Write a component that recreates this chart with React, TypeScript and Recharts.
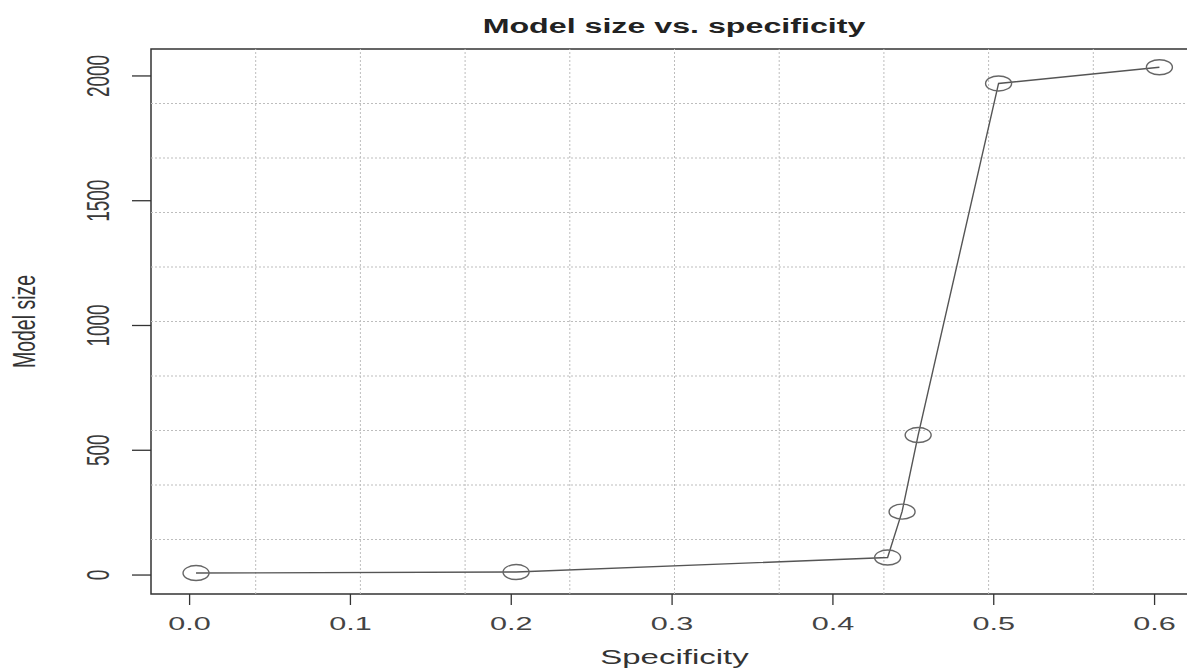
import React from 'react';
import {
  LineChart,
  Line,
  XAxis,
  YAxis,
  ReferenceLine,
  ReferenceArea,
} from 'recharts';

// values
const specificity = [0.004, 0.203, 0.434, 0.443, 0.453, 0.503, 0.603];
const modelSize = [8, 12, 70, 254, 561, 1970, 2035];

const xTicks = [0, 0.1, 0.2, 0.3, 0.4, 0.5, 0.6];
const yTicks = [0, 500, 1000, 1500, 2000];

const xDomain: [number, number] = [-0.024, 0.627];
const yDomain: [number, number] = [-76, 2108];

const chartData = specificity.map((x, i) => ({ x, y: modelSize[i] }));

// grid() style: plot region split into 10 equal parts
const splitDomain = (d: [number, number]) =>
  [1, 2, 3, 4, 5, 6, 7, 8, 9].map((k) => d[0] + (k * (d[1] - d[0])) / 10);
const gridX = splitDomain(xDomain);
const gridY = splitDomain(yDomain);

const FONT = '"Liberation Sans", Arial, sans-serif';
const STRETCH = 1.65; // source image is stretched horizontally

const XTick = (props: any) => {
  const { x, y, payload } = props;
  return (
    <text
      transform={`translate(${x},${y + 25}) scale(1.7,1)`}
      textAnchor="middle"
      fontSize={18}
      fontFamily={FONT}
      fill="#444"
    >
      {payload.value.toFixed(1)}
    </text>
  );
};

const YTick = (props: any) => {
  const { x, y, payload } = props;
  return (
    <text
      transform={`translate(${x - 23},${y}) scale(${STRETCH},1) rotate(-90)`}
      textAnchor="middle"
      fontSize={19}
      fontFamily={FONT}
      fill="#3a3a3a"
    >
      {payload.value}
    </text>
  );
};

const Dot = (props: any) => {
  const { cx, cy, index } = props;
  return (
    <ellipse
      key={`dot-${index}`}
      cx={cx}
      cy={cy}
      rx={13}
      ry={7.5}
      fill="none"
      stroke="#666"
      strokeWidth={1.4}
    />
  );
};

export default function App() {
  return (
    <div
      style={{
        position: 'absolute',
        left: 0,
        top: 0,
        width: 1187,
        height: 670,
        overflow: 'hidden',
        background: '#fff',
      }}
    >
      <div
        style={{
          position: 'absolute',
          left: 674,
          top: 17,
          transform: `translateX(-50%) scaleX(${STRETCH})`,
          fontFamily: FONT,
          fontWeight: 'bold',
          fontSize: 19.5,
          lineHeight: '19.5px',
          color: '#222',
          whiteSpace: 'nowrap',
        }}
      >
        Model size vs. specificity
      </div>
      <LineChart
        width={1214}
        height={670}
        data={chartData}
        margin={{ top: 49, right: 16, bottom: 0, left: 0 }}
        style={{ position: 'absolute', left: 0, top: 0 }}
      >
        {gridX.map((g) => (
          <ReferenceLine
            key={`gx-${g}`}
            x={g}
            stroke="#bdbdbd"
            strokeDasharray="2 2"
          />
        ))}
        {gridY.map((g) => (
          <ReferenceLine
            key={`gy-${g}`}
            y={g}
            stroke="#bdbdbd"
            strokeDasharray="2 2"
          />
        ))}
        <ReferenceArea
          x1={xDomain[0]}
          x2={xDomain[1]}
          y1={yDomain[0]}
          y2={yDomain[1]}
          fill="none"
          stroke="#333"
          strokeWidth={1.5}
        />
        <XAxis
          type="number"
          dataKey="x"
          domain={xDomain}
          allowDataOverflow
          ticks={xTicks}
          height={76}
          axisLine={false}
          tickSize={11}
          tickMargin={0}
          tickLine={{ stroke: '#333', strokeWidth: 1.3 }}
          tick={<XTick />}
          label={{
            content: (p: any) => {
              const vb = p.viewBox;
              return (
                <text
                  transform={`translate(${vb.x + vb.width / 2},${vb.y + 70}) scale(${STRETCH},1)`}
                  textAnchor="middle"
                  fontSize={20}
                  fontFamily={FONT}
                  fill="#333"
                >
                  Specificity
                </text>
              );
            },
          }}
        />
        <YAxis
          type="number"
          dataKey="y"
          domain={yDomain}
          allowDataOverflow
          ticks={yTicks}
          width={151}
          axisLine={false}
          tickSize={19}
          tickMargin={0}
          tickLine={{ stroke: '#333', strokeWidth: 1.3 }}
          tick={<YTick />}
          label={{
            content: (p: any) => {
              const vb = p.viewBox;
              return (
                <text
                  transform={`translate(35,${vb.y + vb.height / 2}) scale(${STRETCH},1) rotate(-90)`}
                  textAnchor="middle"
                  fontSize={19.5}
                  fontFamily={FONT}
                  fill="#333"
                >
                  Model size
                </text>
              );
            },
          }}
        />
        <Line
          type="linear"
          dataKey="y"
          stroke="#555"
          strokeWidth={1.4}
          dot={<Dot />}
          activeDot={false}
          isAnimationActive={false}
        />
      </LineChart>
    </div>
  );
}
